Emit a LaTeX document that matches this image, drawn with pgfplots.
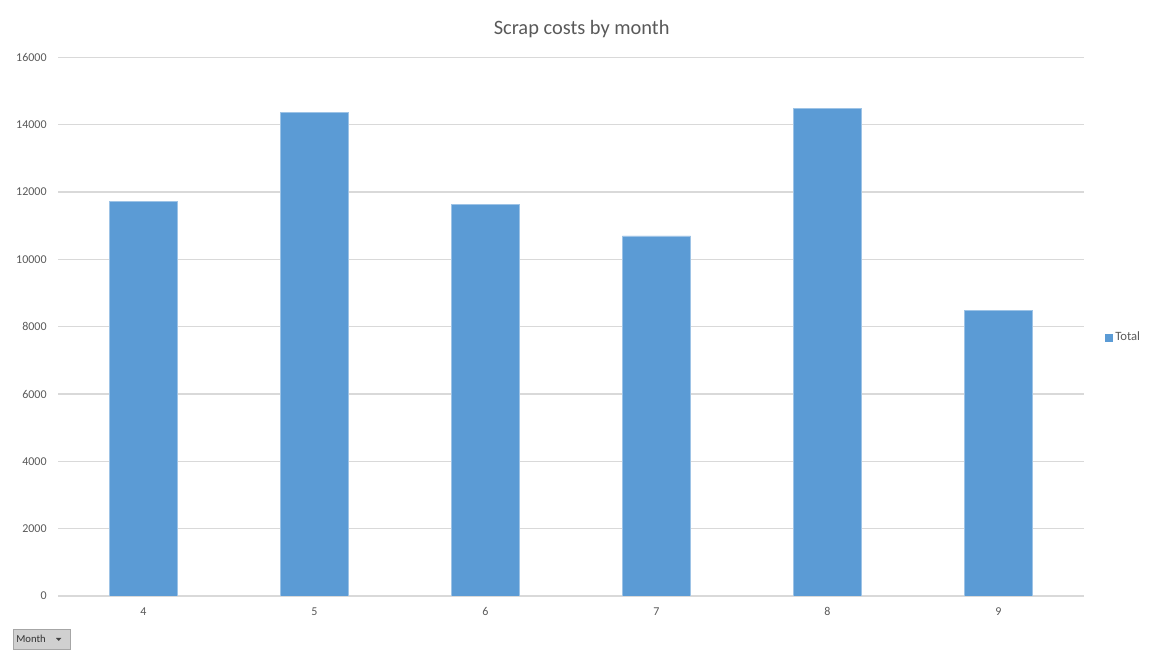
\documentclass[border=0pt]{standalone}
\usepackage{fontspec}
\setmainfont{Carlito}
\usepackage{pgfplots}
\pgfplotsset{compat=1.18}
\definecolor{barblue}{HTML}{5B9BD5}
\definecolor{gridgray}{HTML}{D9D9D9}
\definecolor{txtgray}{HTML}{595959}
\definecolor{btngray}{HTML}{D0D0D0}
\begin{document}
\begin{tikzpicture}
\useasboundingbox (0,0) rectangle (862.5pt,487.5pt);
\begin{axis}[
  at={(43.5pt,40.5pt)}, anchor=origin,
  scale only axis, width=769.5pt, height=404pt,
  xmin=3.5, xmax=9.5, ymin=0, ymax=16000,
  xtick={4,5,6,7,8,9},
  ytick={0,2000,...,16000},
  scaled y ticks=false,
  ymajorgrids, grid style={gridgray, line width=0.8pt},
  axis line style={draw=none},
  major tick length=0pt,
  tick label style={font=\fontsize{9}{10}\selectfont, text=txtgray},
  /pgf/number format/assume math mode=true,
  /pgf/number format/1000 sep={},
  yticklabel style={xshift=-5pt},
  xticklabel style={yshift=-5pt},
  title={Scrap costs by month},
  title style={font=\fontsize{15.3}{17}\selectfont, text=txtgray, at={(0.5,1)}, anchor=south, yshift=5pt, xshift=8pt},
  legend style={at={(1.0205,0.48)}, anchor=west, draw=none, fill=none,
    font=\fontsize{9.5}{10}\selectfont, text=txtgray, inner sep=0pt},
  legend image code/.code={\fill[barblue] (0pt,-2.6pt) rectangle (5.2pt,2.6pt);},
  legend cell align=left,
]
\addplot[ybar, bar width=51pt, fill=barblue, draw=barblue!60!white, line width=0.3pt] coordinates {
  (4,11730) (5,14360) (6,11640) (7,10700) (8,14480) (9,8480)
};
\addlegendentry{Total}
\end{axis}
\node[draw=gray!70, fill=btngray, minimum width=42.75pt, minimum height=15pt, inner sep=0pt, anchor=south west] at (9.75pt,0.5pt) {};
\node[font=\fontsize{8}{9}\selectfont, text=black!80, anchor=west, inner sep=0pt] at (12pt,8pt) {Month};
\fill[black!75] (42pt,9pt) -- (46pt,9pt) -- (44pt,6.8pt) -- cycle;
\end{tikzpicture}
\end{document}
